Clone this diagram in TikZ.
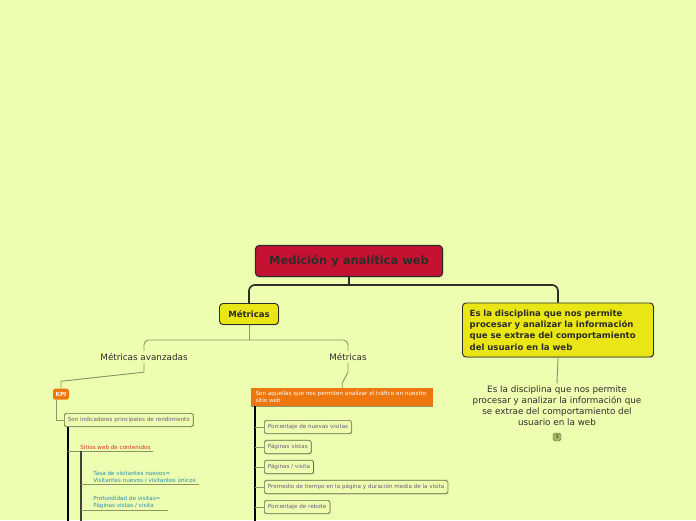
\documentclass[tikz,border=0pt]{standalone}
\usepackage{fontspec}
\setmainfont{DejaVu Sans}
\usetikzlibrary{positioning,calc,shadows}
\definecolor{mapbg}{RGB}{237,254,177}
\definecolor{rootred}{RGB}{198,18,50}
\definecolor{topicyellow}{RGB}{234,229,20}
\definecolor{kpiorange}{RGB}{238,118,14}
\definecolor{inkdark}{RGB}{45,45,40}
\definecolor{linkolive}{RGB}{140,150,100}
\definecolor{leafpurple}{RGB}{115,85,125}
\definecolor{siteRed}{RGB}{215,45,45}
\definecolor{formulaTeal}{RGB}{40,140,175}
\definecolor{badgeolive}{RGB}{165,185,90}
\newcommand{\fsz}[2]{\fontsize{#1}{#2}\selectfont}
\tikzset{
  rootbox/.style={rounded corners=3pt, draw=inkdark, fill=rootred, line width=0.9pt,
                  minimum width=5.61cm, minimum height=0.93cm, text=inkdark,
                  font=\fsz{9.8}{11}\bfseries,
                  drop shadow={shadow xshift=0.8pt, shadow yshift=-0.8pt, opacity=0.35}},
  topicbox/.style={rounded corners=3pt, draw=inkdark, fill=topicyellow, line width=0.8pt,
                  text=inkdark, font=\fsz{7.3}{9.6}\bfseries,
                  drop shadow={shadow xshift=0.8pt, shadow yshift=-0.8pt, opacity=0.35}},
  subtopic/.style={text=inkdark, font=\fsz{7.5}{9.4}, inner sep=2pt},
  kpibox/.style={rounded corners=1.5pt, fill=kpiorange, text=white, font=\fsz{4.8}{5.5}\bfseries,
                  minimum width=0.48cm, minimum height=0.33cm, inner sep=1pt},
  notebox/.style={fill=kpiorange, text=white, font=\fsz{4.8}{6}, align=left,
                  minimum width=5.46cm, minimum height=0.54cm, text width=5.2cm, inner sep=2.5pt},
  leafbox/.style={rounded corners=1.5pt, draw=linkolive!70!black, fill=mapbg, line width=0.6pt,
                  text=leafpurple, font=\fsz{4.8}{5.5}, minimum height=0.36cm, inner xsep=3pt,
                  drop shadow={shadow xshift=0.6pt, shadow yshift=-0.6pt, opacity=0.3}},
  sitetext/.style={text=siteRed, font=\fsz{4.8}{5.5}, inner sep=1pt, anchor=south west},
  formula/.style={text=formulaTeal, font=\fsz{4.8}{5.8}, align=left, inner sep=1pt, anchor=south west},
  badge/.style={rounded corners=1.5pt, draw=inkdark!70, fill=badgeolive, font=\fsz{4}{4.5},
                minimum size=0.24cm, inner sep=0pt, text=inkdark},
  rootlink/.style={draw=inkdark, line width=1.4pt},
  sublink/.style={draw=linkolive, line width=0.8pt},
  spine/.style={draw=black, line width=0.9pt},
  innerspine/.style={draw=inkdark!80!linkolive, line width=0.9pt},
  underline/.style={draw=linkolive, line width=0.7pt},
}

\begin{document}
\begin{tikzpicture}[x=0.03cm, y=-0.03cm]
    \useasboundingbox[fill=mapbg] (0,0) rectangle (696,520);
    % main topics
    \node[rootbox] (root) at (349,261) {Medición y analítica web};
    \node[topicbox, minimum width=1.77cm, minimum height=0.63cm] (metricas) at (249,314) {Métricas};
    \node[topicbox, minimum width=5.73cm, minimum height=1.62cm, text width=5.3cm, align=left] (disc) at (558,330)
      {Es la disciplina que nos permite procesar y analizar la información que se extrae del comportamiento del usuario en la web};
    \coordinate (hub) at (349,285);
    \draw[rootlink] (root.south) -- (hub);
    \draw[rootlink, rounded corners=5pt] (metricas.north) |- (hub) -| (disc.north);
    % subtopics
    \node[subtopic] (avz) at (144,357) {Métricas avanzadas};
    \node[subtopic] (met) at (348,357) {Métricas};
    \coordinate (subhub) at (249,340);
    \draw[sublink] (metricas.south) -- (subhub);
    \draw[sublink, rounded corners=4pt] (avz.north) |- (subhub) -| (met.north);
    \node[subtopic, align=center] (disctxt) at (557,406)
      {Es la disciplina que nos permite\\procesar y analizar la información que\\se extrae del comportamiento del\\usuario en la web};
    \draw[sublink] (disc.south) -- (disctxt.north);
    \node[badge] (count) at (557,437) {3};

    % KPI branch
    \node[kpibox] (kpi) at (61,394) {KPI};
    \draw[sublink] (avz.south) -- ++(0,9) -- ($(kpi.north)+(0,-7)$) -- (kpi.north);
    \node[leafbox, anchor=west] (indic) at (64,420) {Son indicadores principales de rendimiento};
    \draw[sublink] ($(kpi.south west)+(4,0)$) |- (indic.west);
    \coordinate (kpispine) at (68,522);
    \draw[spine] (indic.south west -| kpispine) -- (kpispine);
    \node[sitetext] (sitios) at (79,451) {Sitios web de contenidos};
    \draw[underline] (sitios.south -| kpispine) -- ($(sitios.south east)+(1,0)$);
    \coordinate (sitespine) at (81,522);
    \draw[innerspine] (sitios.south -| sitespine) -- (sitespine);
    \node[formula] (tasa) at (92,484) {Tasa de visitantes nuevos=\\Visitantes nuevos / visitantes únicos};
    \draw[underline] (tasa.south -| sitespine) -- ($(tasa.south east)+(2,0)$);
    \node[formula] (prof) at (92,510) {Profundidad de visitas=\\Páginas vistas / visita};
    \draw[underline] (prof.south -| sitespine) -- ($(prof.south east)+(6,0)$);

    % traffic metrics branch
    \node[notebox, anchor=north west] (trafico) at (251,388)
      {Son aquellas que nos permiten analizar el tráfico en nuestro\\sitio web};
    \draw[sublink] (met.south) -- ++(0,9) -- ($(trafico.north)+(0,-5)$) -- (trafico.north);
    \draw[underline] (trafico.south west) -- (trafico.south east);
    \coordinate (trafspine) at (255,522);
    \draw[spine] (trafico.south west -| trafspine) -- (trafspine);
    \foreach \name/\y/\txt in {nuevas/427/{Porcentaje de nuevas visitas},
                               vistas/447/{Páginas vistas},
                               porvisita/467/{Páginas / visita},
                               promedio/487/{Promedio de tiempo en la página y duración media de la visita},
                               rebote/507/{Porcentaje de rebote}}{
      \node[leafbox, anchor=west] (\name) at (264,\y) {\txt};
      \draw[sublink] (\name.west -| trafspine) -- (\name.west);
    }
\end{tikzpicture}
\end{document}
